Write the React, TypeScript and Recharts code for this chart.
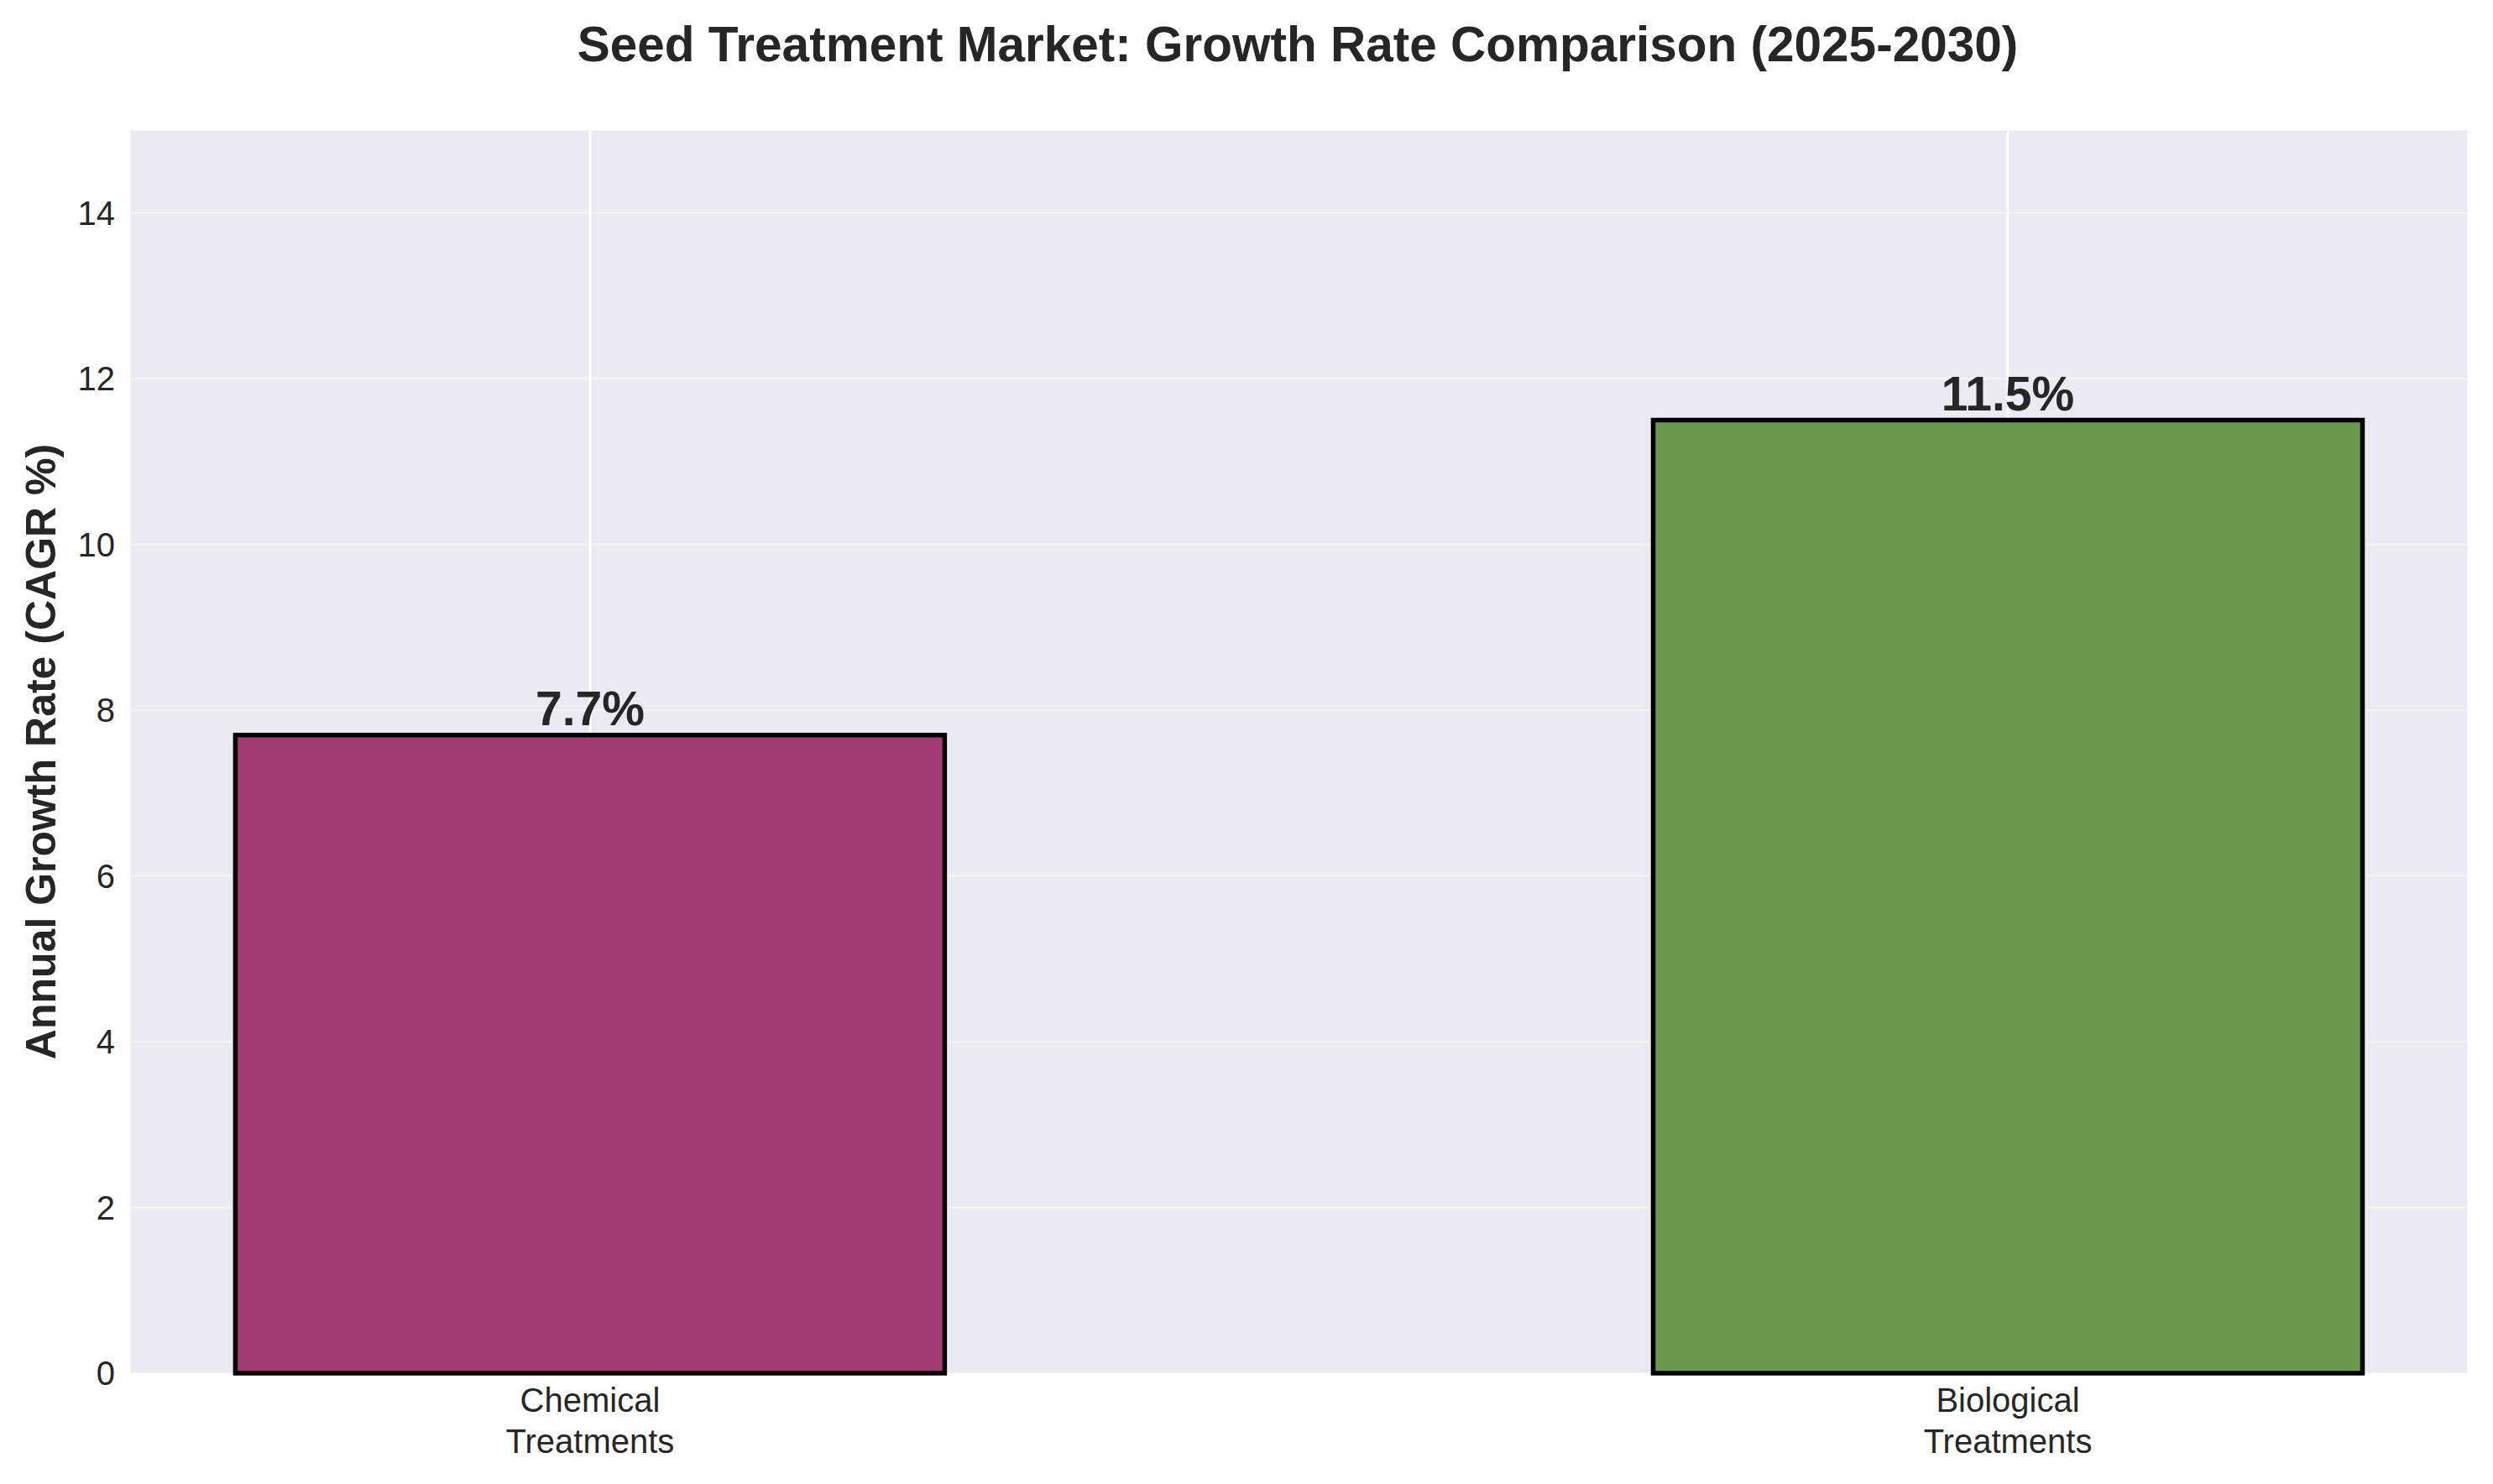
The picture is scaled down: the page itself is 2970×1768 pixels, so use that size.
import React from "react";
import { Bar, BarChart, CartesianGrid, Cell, LabelList, XAxis, YAxis } from "recharts";

const categories = ["Chemical\nTreatments", "Biological\nTreatments"];
const cagrValues = [7.7, 11.5];
const barColors = ["#a23b72", "#6a994e"];
const yTicks = [0, 2, 4, 6, 8, 10, 12, 14];
const title = "Seed Treatment Market: Growth Rate Comparison (2025-2030)";
const yLabel = "Annual Growth Rate (CAGR %)";

const font = '"Liberation Sans", Arial, sans-serif';
const textColor = "#262626";

const data = categories.map((name, i) => ({ pos: i, name, cagr: cagrValues[i] }));

function CategoryTick({ x, y, payload }: any) {
  const lines = categories[payload.value].split("\n");
  return (
    <text x={x} y={y} textAnchor="middle" fill={textColor} fontSize={40} fontFamily={font}>
      {lines.map((line, i) => (
        <tspan key={i} x={x} y={y + 46 + i * 49}>
          {line}
        </tspan>
      ))}
    </text>
  );
}

function YTitle({ viewBox }: any) {
  const cy = viewBox.y + viewBox.height / 2;
  return (
    <text
      x={66}
      y={cy}
      transform={`rotate(-90, 66, ${cy})`}
      textAnchor="middle"
      fill={textColor}
      fontSize={50}
      fontWeight="bold"
      fontFamily={font}
    >
      {yLabel}
    </text>
  );
}

export default function App() {
  return (
    <div style={{ position: "absolute", left: 0, top: 0, width: 2970, height: 1768, background: "#fff" }}>
      <BarChart width={2970} height={1768} data={data} margin={{ top: 155, right: 29, bottom: 0, left: 0 }}>
        <CartesianGrid fill="#eaeaf2" vertical={false} stroke="#ffffff" strokeOpacity={0.35} strokeWidth={3} />
        <CartesianGrid horizontal={false} stroke="#ffffff" strokeWidth={3} />
        <XAxis
          type="number"
          dataKey="pos"
          domain={[-0.325, 1.325]}
          ticks={[0, 1]}
          axisLine={false}
          tickLine={false}
          tickSize={0}
          tickMargin={0}
          height={132}
          interval={0}
          tick={<CategoryTick />}
        />
        <YAxis
          domain={[0, 15]}
          ticks={yTicks}
          width={154}
          axisLine={false}
          tickLine={false}
          tickSize={0}
          tickMargin={17}
          interval={0}
          tick={{ fill: textColor, fontSize: 40, fontFamily: font }}
          label={<YTitle />}
        />
        <Bar dataKey="cagr" barSize={845} stroke="#000" strokeWidth={5.5} isAnimationActive={false}>
          {data.map((d, i) => (
            <Cell key={d.name} fill={barColors[i]} stroke="#000" strokeWidth={5.5} />
          ))}
          <LabelList
            dataKey="cagr"
            position="top"
            offset={12}
            formatter={(v: any) => `${Number(v).toFixed(1)}%`}
            fill={textColor}
            fontSize={57}
            fontWeight="bold"
            fontFamily={font}
          />
        </Bar>
      </BarChart>
      <svg width={2970} height={120} style={{ position: "absolute", left: 0, top: 0, pointerEvents: "none" }}>
        <text x={1546} y={73} textAnchor="middle" fill={textColor} fontSize={58.5} fontWeight="bold" fontFamily={font}>
          {title}
        </text>
      </svg>
    </div>
  );
}
